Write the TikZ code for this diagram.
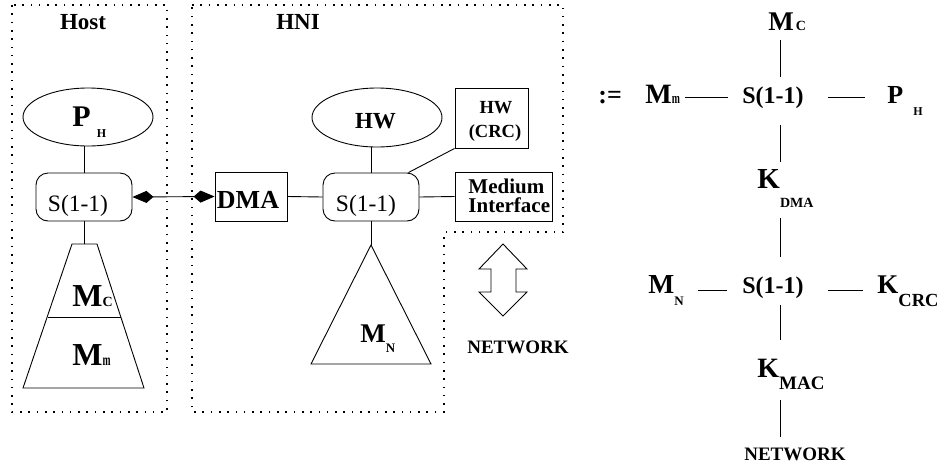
\documentclass[tikz,border=0pt]{standalone}
\usepackage{fontspec}
\usepackage{graphicx}
\setmainfont{Liberation Serif}
\usetikzlibrary{arrows.meta,shapes.geometric}
\newcommand\fsz[1]{\fontsize{#1pt}{#1pt}\selectfont}
\begin{document}
\begin{tikzpicture}[x=1pt,y=-1pt,
  line width=0.9pt,
  txt/.style={inner sep=0pt,font=\bfseries},
  rtxt/.style={inner sep=0pt,font=\mdseries},
  boxs/.style={draw,inner sep=0pt},
  ell/.style={draw,ellipse,inner sep=0pt},
  dotline/.style={line width=1.3pt,dash pattern=on 1.6pt off 6.7pt},
  biarrow/.style={{Kite[length=21pt,width=12pt,inset=7pt]}-{Kite[length=21pt,width=12pt,inset=7pt]}}
]
\useasboundingbox (0,0) rectangle (945,467);

% ---------- containers ----------
\draw[dotline] (12,5) rectangle (167,412);
\draw[dotline] (192,5) -- (563,5) -- (563,232) -- (444,232) -- (444,412) -- (192,412) -- cycle;
\node[txt,anchor=base] (hostL) at (83,29.5) {\fsz{23}Host};
\node[txt,anchor=base] (hniL) at (298,29) {\fsz{23}HNI};

% ---------- Host ----------
\node[ell,minimum width=130pt,minimum height=58pt] (phE) at (88,117) {};
\node[txt,anchor=base west] (phT) at (72,126) {\fsz{30}P\hspace{6pt}\raisebox{-11pt}{\fsz{12}H}};
\node[boxs,rounded corners=12pt,minimum width=96pt,minimum height=48pt] (hS) at (84,197) {};
\node[rtxt,anchor=base] (hST) at (78,211) {\fsz{23.5}S(1-1)};
\coordinate (trapTop) at (84,244);
\draw (72,244) -- (97,244) -- (144,388) -- (23,388) -- cycle;
\draw (47.5,317) -- (121,317);
\node[txt,anchor=base west] (mcL) at (72,306) {\fsz{32}M\fsz{14}C};
\node[txt,anchor=base west] (mmL) at (72,365) {\fsz{32}M\scalebox{0.6}[1]{\fsz{16}m}};
\draw (phE.south -| hS.north) -- (hS.north);
\draw (hS.south) -- (trapTop);

% ---------- HNI ----------
\node[boxs,minimum width=72pt,minimum height=49pt] (dma) at (251,196.5) {};
\node[txt,anchor=base] (dmaT) at (248,208) {\fsz{26}DMA};
\draw[biarrow] (hS.east) -- (dma.west);

\node[ell,minimum width=130pt,minimum height=59pt] (hwE) at (377,117.5) {};
\node[txt,anchor=base] (hwT) at (375.5,128) {\fsz{23}HW};
\node[boxs,minimum width=73pt,minimum height=60pt] (crc) at (491.5,118) {};
\node[txt,anchor=base] (crcT1) at (496,113) {\fsz{18.5}HW};
\node[txt,anchor=base] (crcT2) at (495,137) {\fsz{18.5}(CRC)};
\node[boxs,rounded corners=12pt,minimum width=96pt,minimum height=48pt] (nS) at (371,197) {};
\node[rtxt,anchor=base] (nST) at (366,211) {\fsz{23.5}S(1-1)};
\node[boxs,minimum width=97pt,minimum height=49pt] (med) at (503.5,196.5) {};
\node[txt,anchor=west,align=left,font=\bfseries\fontsize{21pt}{19pt}\selectfont] (medT) at (468,196) {Medium\\Interface};

\draw (dma.east) -- (nS.west);
\draw (nS.east) -- (med.west);
\draw (nS.north) -- (nS.north |- hwE.south);
\draw ([xshift=-11pt]nS.north east) -- (crc.south west);
\coordinate (triTop) at (371,245);
\draw (nS.south) -- (triTop);
\draw (371,245) -- (431,364) -- (311,364) -- cycle;
\node[txt,anchor=base west] (mnL) at (360,342) {\fsz{27}M\raisebox{-10pt}{\fsz{13}N}};

\draw (503,244) -- (527,269) -- (516,269) -- (516,292) -- (527,292) -- (503,316)
      -- (479,292) -- (491,292) -- (491,269) -- (479,269) -- cycle;
\node[txt,anchor=base] (netL) at (518,353) {\fsz{19}NETWORK};

% ---------- right-hand expression ----------
\coordinate (col) at (780,0);
\coordinate (rowA) at (0,97);
\coordinate (rowB) at (0,290);
\node[txt,anchor=base west] (mcR) at (768,30) {\fsz{27}M\hspace{2pt}\fsz{14}C};
\node[txt,anchor=base west] (defR) at (598,103) {\fsz{26}:=};
\node[txt,anchor=base west] (mmR) at (645,103) {\fsz{28}M\scalebox{0.65}[1]{\fsz{15}m}};
\node[txt,anchor=base] (sR) at (773,103) {\fsz{24}S(1-1)};
\node[txt,anchor=base west] (phR) at (887,103) {\fsz{26}P\hspace{10pt}\raisebox{-12pt}{\fsz{12}H}};
\node[txt,anchor=base west] (kdmaR) at (757,188) {\fsz{29}K\raisebox{-19pt}{\fsz{14}DMA}};
\node[txt,anchor=base west] (mnR) at (648,293) {\fsz{27.5}M\raisebox{-12pt}{\fsz{13}N}};
\node[txt,anchor=base] (s2R) at (773,293) {\fsz{24}S(1-1)};
\node[txt,anchor=base west] (kcrcR) at (877,293) {\fsz{27}K\raisebox{-13pt}{\fsz{18.5}CRC}};
\node[txt,anchor=base west] (kmacR) at (757,377) {\fsz{28}K\raisebox{-12pt}{\fsz{19}MAC}};
\node[txt,anchor=base] (netR) at (795,460) {\fsz{19}NETWORK};

\draw[shorten <=10pt,shorten >=26pt] (mcR.base -| col) -- (sR.base -| col);
\draw[shorten <=22pt,shorten >=26pt] (sR.base -| col) -- (kdmaR.base -| col);
\draw[shorten <=30pt,shorten >=36pt] (kdmaR.base -| col) -- (s2R.base -| col);
\draw[shorten <=12pt,shorten >=37pt] (s2R.base -| col) -- (kmacR.base -| col);
\draw[shorten <=23pt,shorten >=23pt] (kmacR.base -| col) -- (netR.base -| col);

\draw[shorten <=5pt,shorten >=14pt] (mmR.east |- rowA) -- (sR.west |- rowA);
\draw[shorten <=24pt,shorten >=22pt] (sR.east |- rowA) -- (phR.west |- rowA);
\draw[shorten <=14pt,shorten >=15pt] (mnR.east |- rowB) -- (s2R.west |- rowB);
\draw[shorten <=24pt,shorten >=14pt] (s2R.east |- rowB) -- (kcrcR.west |- rowB);
\end{tikzpicture}
\end{document}
